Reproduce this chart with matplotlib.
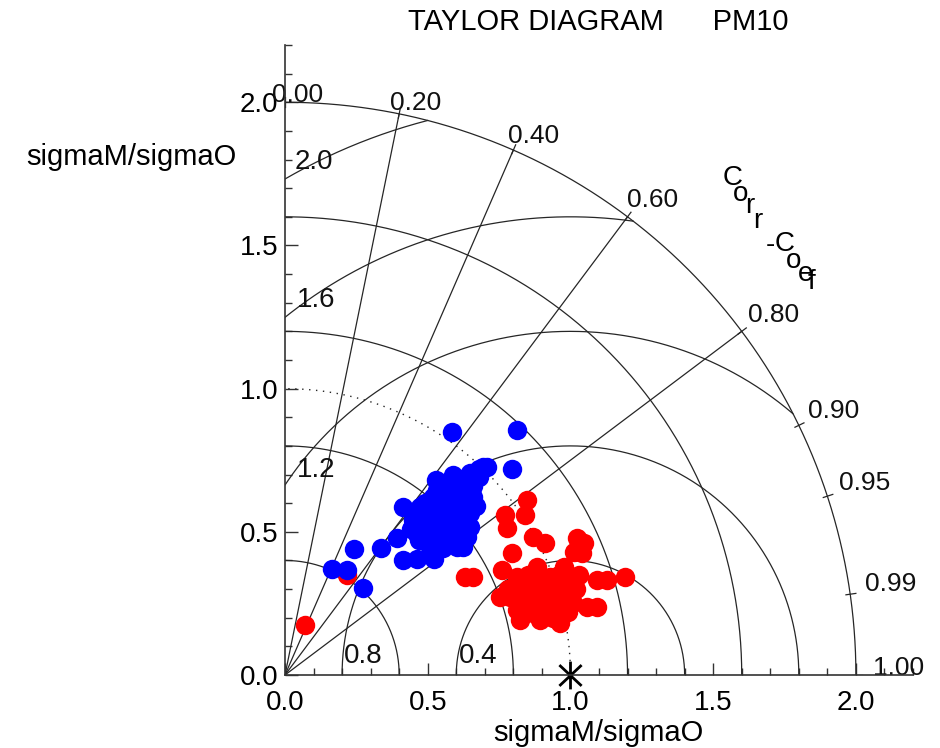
"""Taylor diagram for PM10 (normalised std vs correlation)."""

import numpy as np
import matplotlib.pyplot as plt
from matplotlib.path import Path

plt.rcParams['font.family'] = ['Liberation Sans', 'DejaVu Sans']

# ---- chart values -------------------------------------------------------
title = "TAYLOR DIAGRAM      PM10"
axis_label = "sigmaM/sigmaO"
corr_label = "Corr-Coef"

corr_ticks = [0.0, 0.2, 0.4, 0.6, 0.8, 0.9, 0.95, 0.99, 1.0]
corr_lines = [0.2, 0.4, 0.6, 0.8]
std_arcs = [0.4, 0.8, 1.2, 1.6]
std_ref = 1.0
std_max = 2.0
rms_arcs = [0.4, 0.8, 1.2, 1.6, 2.0]

# model points, x = sigmaM/sigmaO * R, y = sigmaM/sigmaO * sin(acos R)
red_x = [0.069, 0.216, 0.847, 0.841, 0.771, 0.777, 0.870, 0.911, 0.794,
         1.022, 1.046, 1.011, 1.040, 0.631, 0.660, 0.759, 0.812, 0.754,
         0.812, 0.789, 0.882, 0.929, 0.976, 1.000, 0.952, 0.905, 0.952,
         0.929, 0.870, 0.847, 0.882, 0.952, 0.976, 1.092, 1.128, 1.192,
         1.057, 1.092, 0.812, 0.976, 0.905, 0.847, 0.824, 0.964, 0.894,
         0.860, 0.900, 0.930, 0.990, 1.020, 0.960, 0.850, 0.830, 0.880,
         1.030, 0.990, 0.780, 0.920, 0.940, 1.010]
red_y = [0.175, 0.350, 0.611, 0.559, 0.559, 0.512, 0.483, 0.460, 0.425,
         0.477, 0.460, 0.431, 0.425, 0.343, 0.343, 0.367, 0.343, 0.274,
         0.227, 0.274, 0.320, 0.343, 0.378, 0.320, 0.285, 0.250, 0.204,
         0.227, 0.215, 0.274, 0.378, 0.320, 0.250, 0.332, 0.332, 0.343,
         0.239, 0.239, 0.297, 0.297, 0.297, 0.320, 0.192, 0.180, 0.192,
         0.250, 0.220, 0.270, 0.270, 0.300, 0.350, 0.350, 0.250, 0.280,
         0.350, 0.220, 0.300, 0.310, 0.200, 0.250]

blue_x = [0.586, 0.812, 0.795, 0.707, 0.672, 0.637, 0.602, 0.555, 0.532,
          0.415, 0.393, 0.336, 0.241, 0.166, 0.216, 0.274, 0.412, 0.464,
          0.522, 0.450, 0.485, 0.508, 0.555, 0.602, 0.637, 0.648, 0.648,
          0.660, 0.695, 0.625, 0.578, 0.532, 0.497, 0.555, 0.602, 0.590,
          0.625, 0.555, 0.602, 0.648, 0.461, 0.508, 0.566, 0.532, 0.473,
          0.520, 0.637, 0.555, 0.473, 0.530, 0.624, 0.460,
          0.500, 0.530, 0.580, 0.620, 0.600, 0.570, 0.520, 0.490, 0.540,
          0.600, 0.630, 0.660, 0.680, 0.590, 0.450, 0.440, 0.470, 0.620,
          0.670, 0.680]
blue_y = [0.847, 0.856, 0.718, 0.725, 0.704, 0.693, 0.681, 0.670, 0.646,
          0.588, 0.480, 0.445, 0.440, 0.371, 0.367, 0.303, 0.402, 0.404,
          0.406, 0.541, 0.518, 0.483, 0.471, 0.448, 0.483, 0.518, 0.564,
          0.623, 0.728, 0.646, 0.623, 0.588, 0.564, 0.541, 0.541, 0.588,
          0.576, 0.657, 0.669, 0.704, 0.494, 0.448, 0.494, 0.518, 0.588,
          0.623, 0.529, 0.442, 0.530, 0.681, 0.448, 0.553,
          0.500, 0.470, 0.460, 0.500, 0.600, 0.560, 0.550, 0.600, 0.620,
          0.640, 0.610, 0.660, 0.690, 0.700, 0.570, 0.510, 0.470, 0.470,
          0.590, 0.720]

# ---- figure -------------------------------------------------------------
W, H = 940, 748
fig = plt.figure(figsize=(W / 100, H / 100), dpi=100)
ax = fig.add_axes([285 / W, 73 / H, 628 / W, 630 / H])
ax.set_xlim(0, 2.2)
ax.set_ylim(0, 2.2)

line_c = '#262626'
lw = 0.9

# std arcs (centred on origin)
th = np.linspace(0, np.pi / 2, 400)
for r in std_arcs + [std_max]:
    ax.plot(r * np.cos(th), r * np.sin(th), color=line_c, lw=lw)
ax.plot(std_ref * np.cos(th), std_ref * np.sin(th), color=line_c, lw=1.0,
        ls=(0, (1, 4)))

# correlation rays
for c in corr_lines:
    a = np.arccos(c)
    ax.plot([0, std_max * np.cos(a)], [0, std_max * np.sin(a)],
            color=line_c, lw=lw)

# rms arcs (centred on reference point)
phi = np.linspace(0, np.pi, 1200)
for r in rms_arcs:
    x = std_ref + r * np.cos(phi)
    y = r * np.sin(phi)
    keep = (x >= 0) & (np.hypot(x, y) <= std_max)
    ax.plot(np.where(keep, x, np.nan), np.where(keep, y, np.nan),
            color=line_c, lw=lw)

# rms labels
rms_label_xy = [(0.677, 0.066), (0.273, 0.066), (0.108, 0.716),
                (0.108, 1.310), (0.102, 1.792)]
for r, (lx, ly) in zip(rms_arcs, rms_label_xy):
    ax.text(lx, ly, f"{r:.1f}", fontsize=20, ha='center', va='center',
            color='#111111')

# correlation ticks and labels on outer arc
for c in corr_ticks:
    a = np.arccos(c)
    ax.plot([1.985 * np.cos(a), 2.02 * np.cos(a)],
            [1.985 * np.sin(a), 2.02 * np.sin(a)], color=line_c, lw=lw)
    dx = 17 * np.cos(a) - 13 * np.sin(a)
    dy = 10 * np.sin(2 * a)
    ax.annotate(f"{c:.2f}", (std_max * np.cos(a), std_max * np.sin(a)),
                xytext=(dx, dy), textcoords='offset pixels',
                ha='left', va='baseline', fontsize=19, color='#111111',
                annotation_clip=False)

# staggered "Corr-Coef" caption
cc_px = [(733, 178), (741, 194), (750, 206), (758, 221), (770, 245),
         (785, 244), (794, 261), (806, 274), (811, 282)]
for ch, (px, py) in zip(corr_label, cc_px):
    fig.text(px / W, 1 - py / H, ch, fontsize=20, ha='center', va='center')

# model points
ax.plot(red_x, red_y, 'o', color='#ff0000', ms=14, mec='none', zorder=3)
ax.plot(blue_x, blue_y, 'o', color='#0000ff', ms=14, mec='none', zorder=4)

# reference point
star = Path([(0, -1), (0, 1), (-0.8, -0.75), (0.8, 0.75),
             (-0.8, 0.75), (0.8, -0.75)],
            [Path.MOVETO, Path.LINETO] * 3)
ax.plot(std_ref, 0, marker=star, ms=20, mew=2.0, color='black',
        clip_on=False, zorder=6)

# axes styling
for s in ('top', 'right'):
    ax.spines[s].set_visible(False)
for s in ('left', 'bottom'):
    ax.spines[s].set_linewidth(1.2)
    ax.spines[s].set_color('#333333')
    ax.spines[s].set_zorder(7)
ticks = [0.0, 0.5, 1.0, 1.5, 2.0]
ax.set_xticks(ticks)
ax.set_yticks(ticks)
ax.set_xticks(np.arange(0, 2.21, 0.1), minor=True)
ax.set_yticks(np.arange(0, 2.21, 0.1), minor=True)
ax.set_xticklabels([f"{t:.1f}" for t in ticks])
ax.set_yticklabels([f"{t:.1f}" for t in ticks])
ax.tick_params(which='major', direction='in', length=9, width=1.0,
               labelsize=20, color='#333333')
ax.tick_params(which='minor', direction='in', length=5, width=1.0,
               color='#333333')
ax.tick_params(axis='x', which='major', pad=11)
ax.tick_params(axis='y', which='major', pad=5)

fig.text(598 / W, 1 - 733 / H, axis_label, fontsize=21, ha='center',
         va='center')
fig.text(131 / W, 1 - 157 / H, axis_label, fontsize=21, ha='center',
         va='center')
fig.text(598 / W, 1 - 22 / H, title, fontsize=21, ha='center', va='center')

fig.savefig('out.png', dpi=100)
